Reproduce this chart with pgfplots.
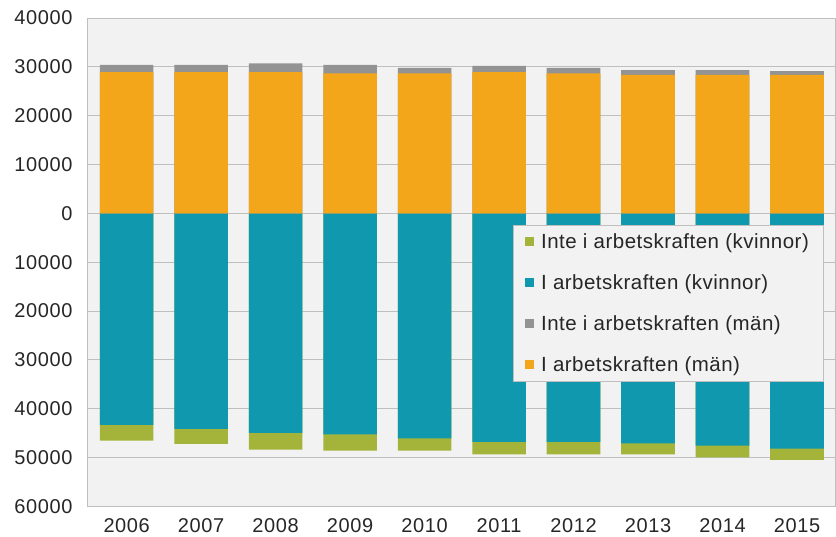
\documentclass[border=0pt]{standalone}
\usepackage{fontspec}
\setmainfont{Liberation Sans}
\usepackage{pgfplots}
\pgfplotsset{compat=1.18}

\definecolor{cgreen}{HTML}{A4B43A}
\definecolor{cteal}{HTML}{1098AE}
\definecolor{cgray}{HTML}{939393}
\definecolor{corange}{HTML}{F4A61A}
\definecolor{cbg}{HTML}{F2F2F2}
\definecolor{cgrid}{HTML}{BFBFBF}

\begin{document}
\begin{tikzpicture}
\begin{axis}[
  scale only axis,
  width=748pt, height=489pt,
  ybar, bar shift=0pt, bar width=0.72,
  xmin=2005.48, xmax=2015.51,
  ymin=-60000, ymax=40000,
  scaled ticks=false,
  xtick=data,
  ytick={-60000,-50000,-40000,-30000,-20000,-10000,0,10000,20000,30000,40000},
  yticklabels={60000,50000,40000,30000,20000,10000,0,10000,20000,30000,40000},
  xticklabel style={/pgf/number format/1000 sep={}, yshift=-9pt},
  yticklabel style={xshift=-12pt},
  /pgf/number format/assume math mode=true,
  tick label style={font=\fontsize{20}{23}\selectfont\addfontfeature{LetterSpace=3}, text=black!85},
  major tick length=0pt,
  ymajorgrids, grid style={cgrid, line width=0.8pt},
  axis line style={cgrid, line width=0.8pt},
  axis background/.style={fill=cbg},
  legend style={at={(0.984,0.577)}, anchor=north east, fill=cbg, draw=cgrid,
    font=\fontsize{20.5}{24}\selectfont\addfontfeature{LetterSpace=2.4}, text=black!85,
    row sep=20.5pt, inner xsep=12pt, inner ysep=7pt,
    /tikz/every odd column/.append style={column sep=5pt}},
  legend cell align=left,
  legend image code/.code={\fill[#1] (0pt,-4.5pt) rectangle (9pt,4.5pt);},
]
% women: total (in + not in labour force), negative
\addplot[fill=cgreen, draw=none] coordinates {
  (2006,-46540) (2007,-47220) (2008,-48380) (2009,-48590) (2010,-48590)
  (2011,-49340) (2012,-49340) (2013,-49340) (2014,-49960) (2015,-50490)};
\addlegendentry{Inte i arbetskraften (kvinnor)}
\addplot[fill=cteal, draw=none] coordinates {
  (2006,-43330) (2007,-44150) (2008,-44970) (2009,-45250) (2010,-46070)
  (2011,-46810) (2012,-46810) (2013,-47100) (2014,-47570) (2015,-48180)};
\addlegendentry{I arbetskraften (kvinnor)}
% men: total (in + not in labour force)
\addplot[fill=cgray, draw=none] coordinates {
  (2006,30400) (2007,30400) (2008,30700) (2009,30400) (2010,29800)
  (2011,30200) (2012,29800) (2013,29330) (2014,29330) (2015,29120)};
\addlegendentry{Inte i arbetskraften (män)}
\addplot[fill=corange, draw=none] coordinates {
  (2006,28900) (2007,28900) (2008,28900) (2009,28650) (2010,28650)
  (2011,28900) (2012,28650) (2013,28360) (2014,28360) (2015,28360)};
\addlegendentry{I arbetskraften (män)}
\end{axis}
\path ([shift={(-88pt,-28pt)}]current axis.south west)
      ([shift={(1pt,18pt)}]current axis.north east);
\end{tikzpicture}
\end{document}
